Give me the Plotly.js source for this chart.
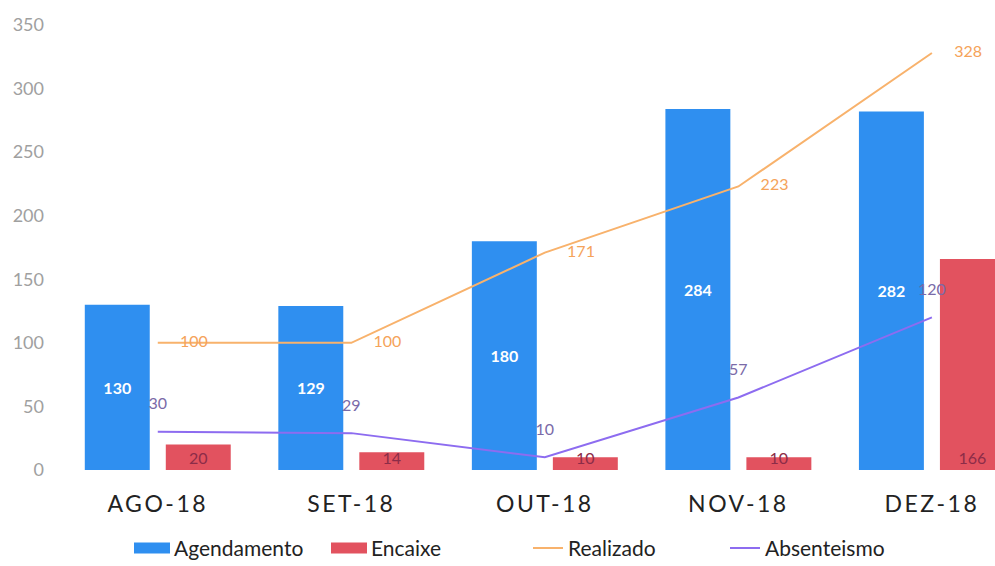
<!DOCTYPE html>
<html>
<head>
<meta charset="utf-8">
<script src="https://cdn.plot.ly/plotly-3.0.1.min.js"></script>
<style>
  html, body { margin: 0; padding: 0; background: #fff; }
  #grafico { width: 995px; height: 566px; }
  /* rótulos dos meses com espaçamento entre letras */
  .xtick text { letter-spacing: 2.5px; }
</style>
</head>
<body>
<div id="grafico"></div>
<script>
// meses
const meses = ["AGO-18", "SET-18", "OUT-18", "NOV-18", "DEZ-18"];

// séries
const agendamento = [130, 129, 180, 284, 282];
const encaixe = [20, 14, 10, 10, 166];
const realizado = [100, 100, 171, 223, 328];
const absenteismo = [30, 29, 10, 57, 120];

const fonte = "Lato, 'Open Sans', sans-serif";

const traces = [
    {
        type: "bar", name: "Agendamento", x: meses, y: agendamento,
        marker: { color: "#2f8ff0" },
        texttemplate: "%{y}", textposition: "inside", insidetextanchor: "middle",
        textangle: 0,
        insidetextfont: { color: "#ffffff", size: 16, family: fonte, weight: "bold" },
        constraintext: "none", cliponaxis: false
    },
    {
        type: "bar", name: "Encaixe", x: meses, y: encaixe,
        marker: { color: "#e2525f" },
        texttemplate: "%{y}", textposition: "inside", insidetextanchor: "start",
        textangle: 0,
        insidetextfont: { color: "#8c2c48", size: 16, family: fonte },
        constraintext: "none", cliponaxis: false
    },
    {
        type: "scatter", name: "Realizado", x: meses, y: realizado,
        mode: "lines+markers+text",
        line: { color: "#f8b26c", width: 2 },
        // marcador invisível só para afastar o rótulo do ponto
        marker: { size: 34, color: "rgba(0,0,0,0)" },
        texttemplate: "%{y}", textposition: "middle right",
        textfont: { color: "#f5a35a", size: 16, family: fonte },
        cliponaxis: false
    },
    {
        type: "scatter", name: "Absenteismo", x: meses, y: absenteismo,
        mode: "lines+markers+text",
        line: { color: "#8d6cf0", width: 2 },
        marker: { size: 28, color: "rgba(0,0,0,0)" },
        texttemplate: "%{y}", textposition: "top center",
        textfont: { color: "#7a6aa8", size: 16, family: fonte },
        cliponaxis: false
    }
];

const layout = {
    width: 995, height: 566,
    margin: { l: 61, r: 0, t: 25, b: 96, autoexpand: false },
    paper_bgcolor: "#ffffff", plot_bgcolor: "#ffffff",
    font: { family: fonte, color: "#222" },
    barmode: "group", bargap: 0.163, bargroupgap: 0.198,
    showlegend: true,
    xaxis: {
        type: "category", range: [-0.5, 4.326],
        showline: false, showgrid: false, ticks: "",
        tickfont: { size: 23, color: "#222", family: fonte },
        ticklabelstandoff: 18
    },
    yaxis: {
        range: [0, 350], dtick: 50,
        showline: false, showgrid: false, zeroline: false, ticks: "",
        tickfont: { size: 18, color: "#a0a0a0", family: fonte },
        ticklabelstandoff: 16
    },
    legend: {
        orientation: "h", x: 0.5, xanchor: "center", y: -0.13, yanchor: "top",
        font: { size: 21, color: "#222", family: fonte },
        entrywidth: 152, entrywidthmode: "pixels",
        traceorder: "normal"
    }
};

Plotly.newPlot("grafico", traces, layout, { staticPlot: true }).then(gd => {
    // símbolos das barras na legenda mais largos, como no original
    gd.querySelectorAll(".legend .legendpoints path").forEach(p => {
        if (p.getAttribute("d") === "M6,6H-6V-6H6Z") {
            p.setAttribute("d", "M16,5.5H-20V-5.5H16Z");
        }
    });
});
</script>
</body>
</html>
